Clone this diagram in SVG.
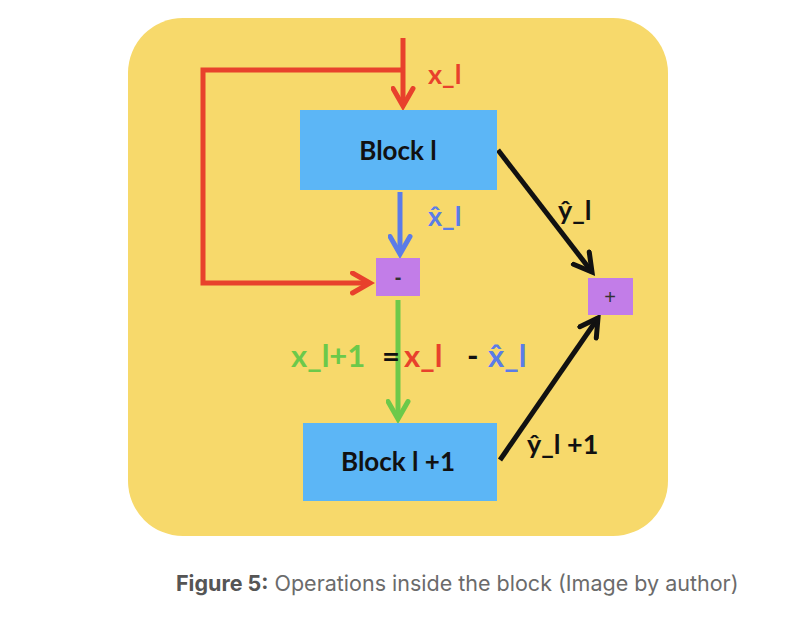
<svg xmlns="http://www.w3.org/2000/svg" width="790" height="620" viewBox="0 0 790 620">
<style>
.lbl{font-family:"Lato","Liberation Sans",sans-serif;font-weight:bold;font-size:27px}
.eq{font-size:31px}
.blk{font-family:"Lato","Liberation Sans",sans-serif;font-weight:bold;font-size:26px;fill:#111}
.red{stroke:#E8412C;stroke-width:5;fill:none}
.cap{font-family:"Inter","Liberation Sans",sans-serif;font-size:21.5px;fill:#6b6b6b}
</style>
<defs>
<marker id="ar" viewBox="0 0 10 10" refX="8" refY="5" markerWidth="5" markerHeight="5" orient="auto" markerUnits="strokeWidth"><path d="M1,1 L8,5 L1,9" fill="none" stroke="#E8412C" stroke-width="2" stroke-linecap="round"/></marker>
<marker id="ab" viewBox="0 0 10 10" refX="8" refY="5" markerWidth="5" markerHeight="5" orient="auto" markerUnits="strokeWidth"><path d="M1,1 L8,5 L1,9" fill="none" stroke="#5B7CE8" stroke-width="2" stroke-linecap="round"/></marker>
<marker id="ag" viewBox="0 0 10 10" refX="8" refY="5" markerWidth="5" markerHeight="5" orient="auto" markerUnits="strokeWidth"><path d="M1,1 L8,5 L1,9" fill="none" stroke="#6CC94A" stroke-width="2" stroke-linecap="round"/></marker>
<marker id="ak" viewBox="0 0 10 10" refX="8" refY="5" markerWidth="5" markerHeight="5" orient="auto" markerUnits="strokeWidth"><path d="M1,1 L8,5 L1,9" fill="none" stroke="#111" stroke-width="2" stroke-linecap="round"/></marker>
</defs>
<rect width="790" height="620" fill="#fff"/>
<rect x="128" y="18" width="540" height="518" rx="55" fill="#F7D96B"/>
<g id="connectors">
<path class="red" d="M403,38 V106" marker-end="url(#ar)"/>
<path class="red" d="M405,70 H203 V283 H370" marker-end="url(#ar)"/>
<path d="M400,192 V254" stroke="#5B7CE8" stroke-width="5" fill="none" marker-end="url(#ab)"/>
<path d="M398,300 V419" stroke="#6CC94A" stroke-width="5" fill="none" marker-end="url(#ag)"/>
<path d="M498,150 L592,272" stroke="#111" stroke-width="5" fill="none" marker-end="url(#ak)"/>
<path d="M500,460 L598,318" stroke="#111" stroke-width="5" fill="none" marker-end="url(#ak)"/>
<text class="lbl" x="428" y="84" fill="#E8412C">x_l</text>
<text class="lbl" x="428" y="226" fill="#5B7CE8">x̂_l</text>
<text class="lbl" x="558" y="220" fill="#111">ŷ_l</text>
<text class="lbl" x="527" y="454" fill="#111">ŷ_l +1</text>
<text class="lbl eq" y="367"><tspan x="291" fill="#6CC94A">x_l+1</tspan><tspan x="382" fill="#111">=</tspan><tspan x="404" fill="#E8412C">x_l</tspan><tspan x="467" fill="#111">-</tspan><tspan x="488" fill="#5B7CE8">x̂_l</tspan></text>
</g>
<g id="block-l">
<rect x="300" y="110" width="197" height="80" fill="#5CB6F6"/>
<text class="blk" x="398" y="160" text-anchor="middle">Block l</text>
</g>
<g id="minus">
<rect x="376" y="258" width="44" height="38" fill="#C27DE8"/>
<text x="398" y="284" text-anchor="middle" font-family="Liberation Sans,sans-serif" font-size="20" font-weight="bold" fill="#333">-</text>
</g>
<g id="plus">
<rect x="588" y="278" width="45" height="37" fill="#C27DE8"/>
<text x="610" y="304" text-anchor="middle" font-family="Liberation Sans,sans-serif" font-size="20" fill="#333">+</text>
</g>
<g id="block-l1">
<rect x="303" y="423" width="194" height="78" fill="#5CB6F6"/>
<text class="blk" x="398" y="471" text-anchor="middle">Block l +1</text>
</g>
<text class="cap" x="176" y="591"><tspan font-weight="bold" fill="#555">Figure 5:</tspan> Operations inside the block (Image by author)</text>
</svg>
